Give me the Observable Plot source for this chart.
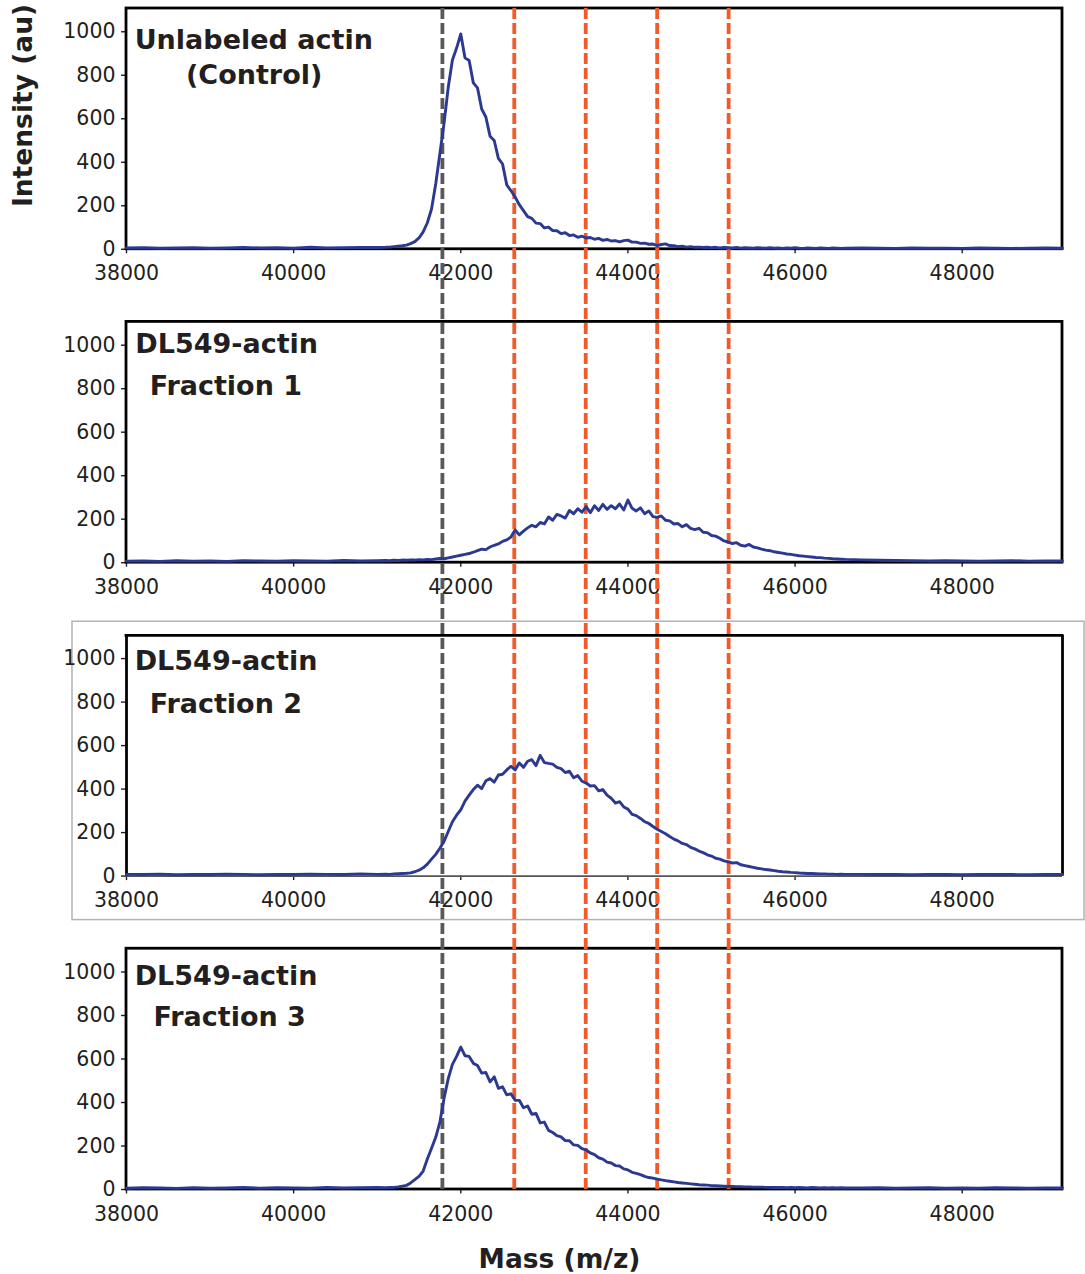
<!DOCTYPE html>
<html><head><meta charset="utf-8">
<script src="https://cdn.jsdelivr.net/npm/d3@7"></script>
<script src="https://cdn.jsdelivr.net/npm/@observablehq/plot@0.6"></script>
<style>html,body{margin:0;padding:0;background:#fff}</style>
</head><body><div id="chart"></div>
<script>
// ---- data ----
const mass = [
38000,38200,38400,38600,38800,39000,39200,39400,39600,39800,40000,40200,40400,40600,40800,41000,
41100,41150,41200,41250,41300,41350,41400,41450,41500,41550,
41600,41650,41700,41750,41800,41850,41900,41950,42000,42050,
42100,42150,42200,42250,42300,42350,42400,42450,42500,42550,
42600,42650,42700,42750,42800,42850,42900,42950,43000,43050,
43100,43150,43200,43250,43300,43350,43400,43450,43500,43550,
43600,43650,43700,43750,43800,43850,43900,43950,44000,44050,
44100,44150,44200,44250,44300,44350,44400,44450,44500,44550,
44600,44650,44700,44750,44800,44850,44900,44950,45000,45050,
45100,45150,45200,45250,45300,45350,45400,45450,45500,45550,
45600,45650,45700,45750,45800,45850,45900,45950,46000,46050,
46100,46150,46200,46250,46300,46350,46400,46450,46500,46550,
46600,
46800,47000,47200,47400,47600,47800,48000,48200,48400,48600,48800,49000,49200];

const control = [
6,7,5,6,7,5,6,8,6,7,5,9,6,7,8,8,
9,10,12,14,16,19,26,35,52,80,
122,185,300,440,580,745,870,925,990,880,
868,765,742,645,608,520,500,418,392,296,
270,240,205,178,150,142,120,118,98,102,
86,85,72,76,63,66,55,60,52,54,
46,50,41,45,38,40,34,40,42,33,
33,27,28,23,24,17,22,25,17,16,
12,14,10,12,9,10,8,9,7,9,
6,8,7,6,8,5,7,6,5,7,
6,5,7,5,6,4,6,5,7,5,
4,6,5,4,6,5,4,6,5,4,
5,
6,5,4,6,5,5,4,6,5,4,5,6,5];

const fraction1 = [
7,8,6,9,7,8,6,9,8,7,9,8,7,10,8,9,
10,9,11,10,12,11,13,12,14,13,
15,14,17,19,18,22,26,30,34,38,
42,48,55,62,60,72,80,86,98,105,
118,150,128,145,160,172,165,185,178,210,
195,222,215,205,240,225,248,232,258,230,
262,240,268,245,262,248,270,242,288,250,
238,252,225,238,212,208,215,195,192,178,
180,165,175,158,152,158,140,138,125,122,
112,100,95,88,92,80,76,84,72,68,
62,58,55,50,47,44,40,38,35,32,
30,28,26,24,23,21,20,18,17,16,
15,
13,11,10,9,8,9,8,7,8,9,7,8,8];

const fraction2 = [
8,7,9,6,8,7,9,8,6,8,7,9,8,7,10,8,
9,8,10,11,12,13,15,20,27,38,
55,78,100,128,160,205,250,280,305,345,
372,398,418,402,438,448,432,465,468,488,
505,488,520,500,528,535,508,555,522,518,
515,500,494,476,482,452,462,436,428,414,
416,392,398,372,358,336,342,318,308,284,
278,265,250,242,228,215,205,195,182,170,
162,150,145,132,125,115,108,98,92,82,
78,70,66,60,62,52,48,44,40,36,
33,30,28,25,22,20,19,17,16,14,
13,12,12,11,10,10,9,9,8,9,
8,
8,7,8,6,7,8,6,7,8,7,6,8,7];

const fraction3 = [
6,8,7,5,8,6,7,9,6,8,7,6,9,7,8,9,
8,9,10,12,15,19,30,45,60,85,
140,190,240,310,420,510,575,612,655,615,
612,580,570,535,538,495,518,465,472,435,
440,410,410,376,384,346,350,306,310,272,
262,248,242,225,224,205,203,188,182,168,
160,146,140,126,122,110,108,95,90,79,
74,68,60,55,52,48,44,41,38,35,
32,30,28,26,24,22,21,20,18,17,
16,15,14,14,13,13,12,12,11,11,
11,10,10,9,10,9,8,9,8,9,
8,7,9,8,7,8,7,8,7,8,
7,
7,8,6,7,8,6,7,6,8,7,6,7,7];

const panelTitles = [
  ["Unlabeled actin", "(Control)"],
  ["DL549-actin", "Fraction 1"],
  ["DL549-actin", "Fraction 2"],
  ["DL549-actin", "Fraction 3"]
];
const xTicks = [38000, 40000, 42000, 44000, 46000, 48000];
const yTicks = [0, 200, 400, 600, 800, 1000];
const controlMarker = [41780];
const shiftMarkers = [42640, 43495, 44350, 45205];
const xLabel = "Mass (m/z)";
const yLabel = "Intensity (au)";

// ---- layout ----
const series = [control, fraction1, fraction2, fraction3];
series.forEach((s, i) => { if (s.length !== mass.length) throw new Error("length mismatch in series " + i + ": " + s.length + " vs " + mass.length); });

const W = 1085, H = 1274;
const mTop = 8, mBottom = 85, mLeft = 126, mRight = 23;
const xDomain = [38000, 49200];
const panelTop = 1107;     // intensity at the top edge of each panel
const pitch = 1441;        // vertical spacing of panels in intensity units
const offs = [3 * pitch, 2 * pitch, pitch, 0];
const yMax = 3 * pitch + panelTop;
const unitsPerPx = yMax / (H - mTop - mBottom);

const ink = "#231f20";
const font = "DejaVu Sans";

const rows = series.flatMap((s, i) => s.map((v, k) => ({m: mass[k], v, off: offs[i], i})));
const xTickRows = offs.flatMap(off => xTicks.map(v => ({v, off})));
const yTickAll = offs.flatMap(off => yTicks.map(v => off + v));

const titleLayout = [
  [{dx: 8.2, dy: 40}, {dx: 59.5, dy: 75.2}],
  [{dx: 8.8, dy: 30.6}, {dx: 23.2, dy: 73.3}],
  [{dx: 8.2, dy: 34.7}, {dx: 23.2, dy: 77.4}],
  [{dx: 8.2, dy: 36}, {dx: 27, dy: 77.7}]
];

const marks = [];

// gray box around panel 3
marks.push(Plot.rect([offs[2]], {
  x1: () => xDomain[0], x2: () => xDomain[1], y1: d => d, y2: d => d + panelTop,
  insetLeft: -54, insetRight: -22, insetTop: -13.6, insetBottom: -44,
  fill: "none", stroke: "#b3b3b3", strokeWidth: 1.5
}));

// x tick labels and marks per panel
marks.push(Plot.ruleX(xTickRows, {
  x: "v", y1: d => d.off, y2: d => d.off - 4.5 * unitsPerPx, stroke: ink, strokeWidth: 1.4
}));
marks.push(Plot.text(xTickRows, {
  x: "v", y: "off", text: d => String(d.v), dy: 31, lineAnchor: "bottom",
  fontSize: 20.5, fontFamily: font, fill: ink
}));

// y axis (repeated per panel)
marks.push(Plot.axisY({
  ticks: yTickAll, tickFormat: d => String(Math.round(d) % pitch),
  tickSize: 5, tickPadding: 6, fontSize: 20.5, fontFamily: font, strokeWidth: 1.4, label: null
}));

// frames
[0, 1, 3].forEach(i => marks.push(Plot.rect([offs[i]], {
  x1: () => xDomain[0], x2: () => xDomain[1], y1: d => d, y2: d => d + panelTop,
  fill: "none", stroke: "#000", strokeWidth: 2.8
})));
marks.push(Plot.ruleY([offs[2]], {x1: () => xDomain[0], x2: () => xDomain[1], y: d => d, stroke: "#555", strokeWidth: 1.6}));
marks.push(Plot.ruleY([offs[2] + panelTop], {x1: () => xDomain[0], x2: () => xDomain[1], y: d => d, stroke: "#000", strokeWidth: 2.8, strokeLinecap: "square"}));
marks.push(Plot.ruleX(xDomain, {x: d => d, y1: () => offs[2], y2: () => offs[2] + panelTop, stroke: "#000", strokeWidth: 2.8}));

// dashed reference lines spanning all panels
marks.push(Plot.ruleX(controlMarker, {x: d => d, stroke: "#58595b", strokeWidth: 3.8, strokeDasharray: "11,4"}));
marks.push(Plot.ruleX(shiftMarkers, {x: d => d, stroke: "#f15a29", strokeWidth: 3.8, strokeDasharray: "11,4"}));

// spectra
marks.push(Plot.line(rows, {
  x: "m", y: d => d.off + d.v, z: "i", stroke: "#2b3990", strokeWidth: 2.9, strokeLinejoin: "round"
}));

// panel titles
panelTitles.forEach((lines, i) => lines.forEach((t, j) => {
  marks.push(Plot.text([t], {
    x: () => xDomain[0], y: () => offs[i] + panelTop, text: d => d,
    dx: titleLayout[i][j].dx, dy: titleLayout[i][j].dy,
    textAnchor: "start", lineAnchor: "bottom",
    fontSize: 27, fontWeight: "bold", fontFamily: font, fill: ink
  }));
}));

// axis labels
marks.push(Plot.text([yLabel], {
  frameAnchor: "top-left", text: d => d, rotate: -90, dx: -102.6, dy: 97,
  textAnchor: "middle", lineAnchor: "middle",
  fontSize: 26.5, fontWeight: "bold", fontFamily: font, fill: ink
}));
marks.push(Plot.text([xLabel], {
  frameAnchor: "bottom", text: d => d, dx: -35, dy: 78, lineAnchor: "bottom",
  fontSize: 26.5, fontWeight: "bold", fontFamily: font, fill: ink
}));

const chart = Plot.plot({
  width: W, height: H,
  marginTop: mTop, marginBottom: mBottom, marginLeft: mLeft, marginRight: mRight,
  x: {domain: xDomain, axis: null},
  y: {domain: [0, yMax], axis: null},
  style: {background: "#fff", fontFamily: font, color: ink, overflow: "visible"},
  marks
});
document.getElementById("chart").appendChild(chart);
</script>
</body></html>
